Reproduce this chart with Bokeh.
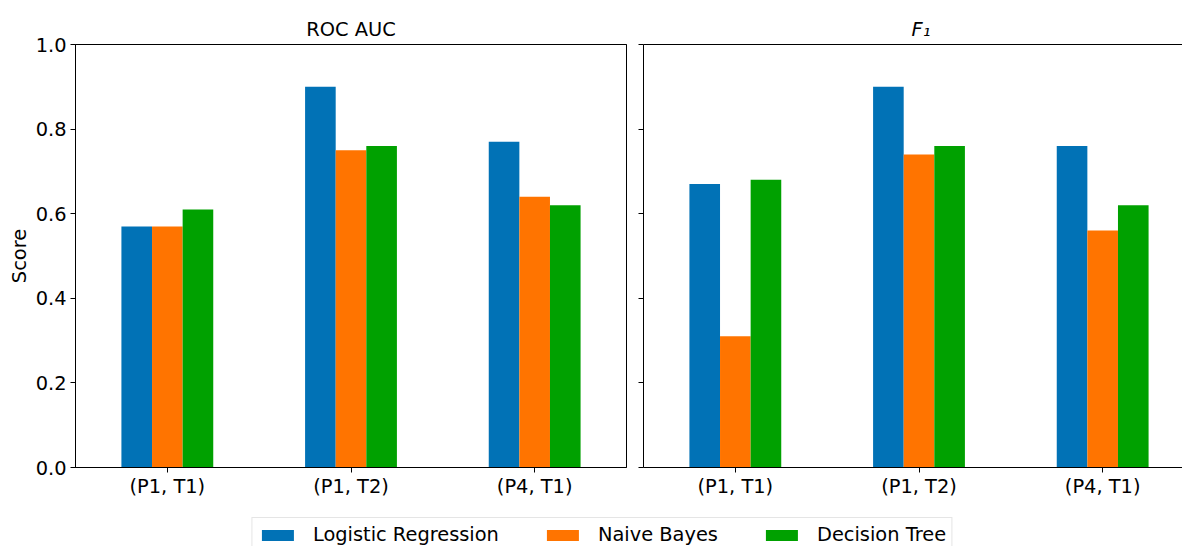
import numpy as np
from bokeh.plotting import figure
from bokeh.layouts import column, row
from bokeh.models import (Range1d, FixedTicker, LinearAxis, Legend, LegendItem,
                          CustomJSTickFormatter, ColumnDataSource)
from bokeh.embed import file_html
from bokeh.resources import INLINE

# ---------------- data ----------------
categories = ["(P1, T1)", "(P1, T2)", "(P4, T1)"]
models = ["Logistic Regression", "Naive Bayes", "Decision Tree"]
colors = ["#0172b6", "#ff7400", "#00a100"]

roc_lr = [0.57, 0.90, 0.77]
roc_nb = [0.57, 0.75, 0.64]
roc_dt = [0.61, 0.76, 0.62]

f1_lr = [0.67, 0.90, 0.76]
f1_nb = [0.31, 0.74, 0.56]
f1_dt = [0.68, 0.76, 0.62]

y_ticks = [0.0, 0.2, 0.4, 0.6, 0.8, 1.0]

FONT = "DejaVu Sans"
FS = "19.4px"
GROUP_WIDTH = 0.5

x_idx = np.arange(len(categories))
bar_w = GROUP_WIDTH / len(models)
offsets = [(i - (len(models) - 1) / 2) * bar_w for i in range(len(models))]
label_map = {int(i): c for i, c in zip(x_idx, categories)}

FRAME_W = 551
PX_PER_CAT = FRAME_W / len(categories)


def style_common(p, show_labels):
    p.xgrid.visible = False
    p.ygrid.visible = False
    p.background_fill_color = "white"
    p.border_fill_color = "white"
    # x axis
    xa = p.below[0]
    xa.ticker = FixedTicker(ticks=list(map(float, x_idx)))
    xa.major_label_overrides = label_map
    xa.major_label_text_font = FONT
    xa.major_label_text_font_size = FS
    xa.major_label_text_color = "black"
    xa.major_tick_in = 0
    xa.major_tick_out = 5
    xa.minor_tick_line_color = None
    xa.major_label_standoff = 2
    xa.axis_line_color = "black"
    xa.major_tick_line_color = "black"
    # y axis
    ya = p.left[0]
    ya.ticker = FixedTicker(ticks=y_ticks)
    ya.major_tick_in = 0
    ya.major_tick_out = 5
    ya.minor_tick_line_color = None
    ya.axis_line_color = "black"
    ya.major_tick_line_color = "black"
    ya.major_label_text_font = FONT
    ya.major_label_text_font_size = FS
    ya.major_label_text_color = "black"
    if show_labels:
        ya.formatter = CustomJSTickFormatter(code="return tick.toFixed(1);")
        ya.major_label_standoff = 4
        ya.axis_label = "Score"
        ya.axis_label_text_font = FONT
        ya.axis_label_text_font_size = FS
        ya.axis_label_text_font_style = "normal"
        ya.axis_label_text_color = "black"
        ya.axis_label_standoff = 2
    else:
        ya.formatter = CustomJSTickFormatter(code="return '';")
        ya.major_label_standoff = 0
    # top border line as an axis without ticks
    top = LinearAxis(ticker=FixedTicker(ticks=[]), axis_line_color="black",
                     major_tick_line_color=None, minor_tick_line_color=None,
                     major_label_standoff=0, major_label_text_font_size="0px")
    p.add_layout(top, "above")
    # title
    p.title.text_font = FONT
    p.title.text_font_size = FS
    p.title.text_color = "black"
    p.title.standoff = 8


def draw_bars(p, series):
    for vals, col, off in zip(series, colors, offsets):
        src = ColumnDataSource(dict(x=x_idx + off, top=vals))
        p.vbar(x="x", top="top", width=bar_w, bottom=0, source=src,
               fill_color=col, line_color=None)


H = 508
W1 = 634
p1 = figure(width=W1, height=H, x_range=Range1d(-0.5, len(categories) - 0.5),
            y_range=Range1d(0, 1), output_backend="svg", toolbar_location=None,
            min_border_left=75, min_border_right=W1 - 75 - FRAME_W,
            min_border_top=44, min_border_bottom=41, title="ROC AUC",
            outline_line_color="black")
p1.title.text_font_style = "normal"
style_common(p1, True)
p1.title.align = "center"
draw_bars(p1, [roc_lr, roc_nb, roc_dt])

W2 = 1182 - W1
frame2 = W2 - 9
p2 = figure(width=W2, height=H,
            x_range=Range1d(-0.5, -0.5 + frame2 / PX_PER_CAT),
            y_range=Range1d(0, 1), output_backend="svg", toolbar_location=None,
            min_border_left=9, min_border_right=0, min_border_top=44,
            min_border_bottom=41, title="F\u2081", outline_line_color=None)
p2.title.text_font_style = "italic"
style_common(p2, False)
p2.title.align = "left"
p2.title.offset = 268
draw_bars(p2, [f1_lr, f1_nb, f1_dt])

# legend figure
pl = figure(width=1182, height=546 - H, x_axis_type=None, y_axis_type=None,
            x_range=Range1d(0, 1), y_range=Range1d(0, 1),
            output_backend="svg", toolbar_location=None,
            min_border_left=21, min_border_right=0, min_border_top=0,
            min_border_bottom=0, outline_line_color=None)
pl.grid.visible = False
items = []
for m, col in zip(models, colors):
    r = pl.vbar(x=[5], top=[1], width=0.1, fill_color=col, line_color=None)
    items.append(LegendItem(label=m, renderers=[r]))
legend = Legend(items=items, orientation="horizontal", location="top_center",
                glyph_width=40, glyph_height=14, label_standoff=16, spacing=43,
                padding=5, margin=9, label_text_font=FONT,
                label_text_font_size=FS, label_text_color="black",
                border_line_color="#cccccc", border_line_width=1,
                background_fill_color="white", background_fill_alpha=1.0)
pl.add_layout(legend, "center")

layout = column(row(p1, p2), pl)
open("out.html", "w").write(file_html(layout, INLINE))
